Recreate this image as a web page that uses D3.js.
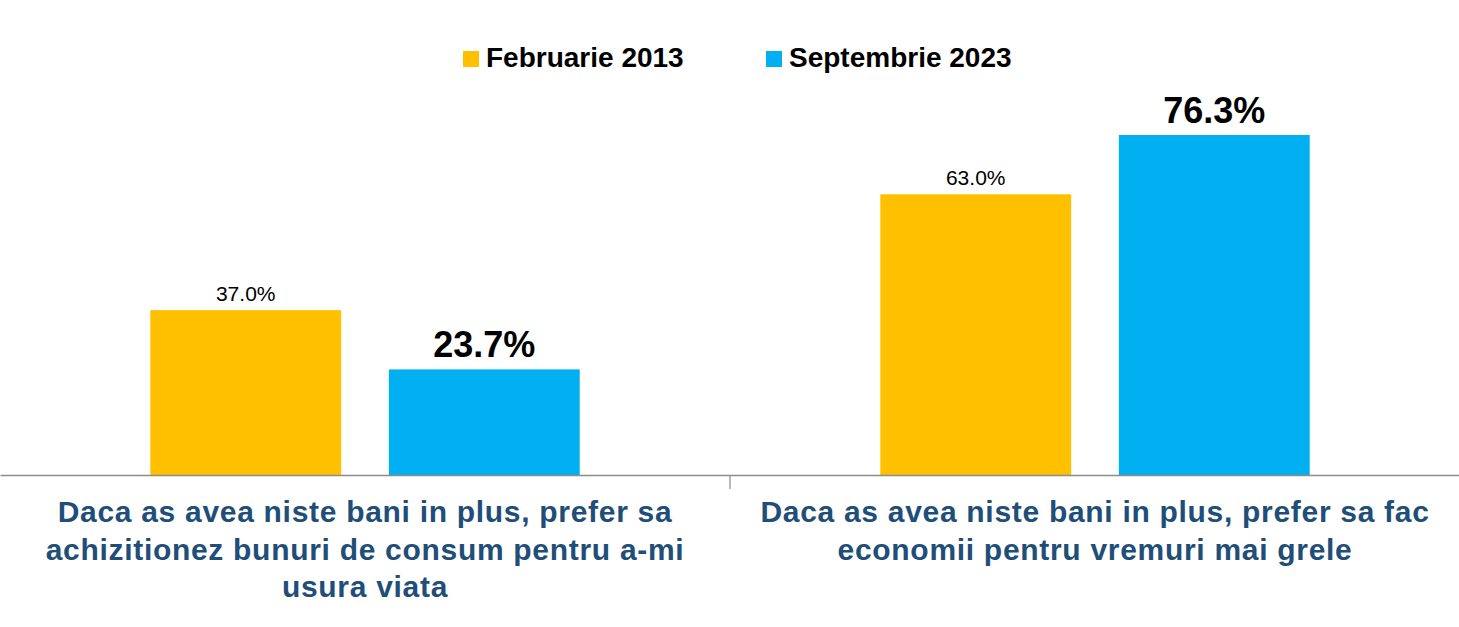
<!DOCTYPE html>
<html>
<head>
<meta charset="utf-8">
<script src="https://cdn.jsdelivr.net/npm/d3@7/dist/d3.min.js"></script>
<style>
  html, body { margin: 0; padding: 0; background: #fff; }
  svg { display: block; font-family: "Liberation Sans", Arial, sans-serif; }
</style>
</head>
<body>
<div id="chart"></div>
<script>
// Economii vs. consum - two survey waves
const width = 1459;
const height = 627;

const categories = [
    'Daca as avea niste bani in plus, prefer sa achizitionez bunuri de consum pentru a-mi usura viata',
    'Daca as avea niste bani in plus, prefer sa fac economii pentru vremuri mai grele'
];
const seriesNames = ['Februarie 2013', 'Septembrie 2023'];
const feb2013 = [37.0, 63.0];
const sep2023 = [23.7, 76.3];
const seriesColors = ['#FFC000', '#00B0F0'];

const values = [feb2013, sep2023];
const baseline = 475;

const svg = d3.select('#chart')
    .append('svg')
    .attr('width', width)
    .attr('height', height);

const x = d3.scaleBand().domain(d3.range(categories.length)).range([0, 1460]).padding(0);
const xSub = d3.scaleBand().domain(d3.range(seriesNames.length))
    .range([0, x.bandwidth()])
    .paddingInner(0.2)
    .paddingOuter(0.63);
const y = d3.scaleLinear().domain([0, 100]).range([baseline, baseline - 445.6]);

// bars
seriesNames.forEach((name, s) => {
    svg.selectAll('.bar-' + s)
        .data(values[s])
        .enter()
        .append('rect')
        .attr('class', 'bar-' + s)
        .attr('x', (d, i) => x(i) + xSub(s))
        .attr('y', d => y(d))
        .attr('width', xSub.bandwidth())
        .attr('height', d => y(0) - y(d))
        .attr('fill', seriesColors[s]);

    // value labels, the newer wave is bold and bigger
    svg.selectAll('.label-' + s)
        .data(values[s])
        .enter()
        .append('text')
        .attr('x', (d, i) => x(i) + xSub(s) + xSub.bandwidth() / 2)
        .attr('y', d => y(d) - (s === 1 ? 12 : 9))
        .attr('text-anchor', 'middle')
        .attr('fill', '#000')
        .style('font-size', s === 1 ? '36px' : '21px')
        .style('font-weight', s === 1 ? 'bold' : 'normal')
        .text(d => d.toFixed(1) + '%');
});

// axis line + middle tick
const axis = svg.append('g')
    .attr('transform', `translate(0,${baseline})`)
    .call(d3.axisBottom(x).tickValues([]).tickSizeOuter(0));
axis.select('.domain').attr('stroke', '#8c8c8c').attr('stroke-width', 1.5);
axis.append('line')
    .attr('x1', x(1)).attr('x2', x(1))
    .attr('y1', 0).attr('y2', 14)
    .attr('stroke', '#8c8c8c')
    .attr('stroke-width', 1.2);

// category labels, wrapped
const catLabels = svg.selectAll('.cat')
    .data(categories)
    .enter()
    .append('text')
    .attr('class', 'cat')
    .attr('text-anchor', 'middle')
    .attr('fill', '#1F4E79')
    .style('font-size', '30px')
    .style('font-weight', 'bold')
    .style('letter-spacing', '0.7px');

catLabels.each(function(d, i) {
    const text = d3.select(this);
    const cx = x(i) + x.bandwidth() / 2;
    const words = d.split(' ');
    let lineNo = 0;
    let line = [];
    let tspan = text.append('tspan').attr('x', cx).attr('y', baseline + 47);
    words.forEach(w => {
        line.push(w);
        tspan.text(line.join(' '));
        if (tspan.node().getComputedTextLength() > 700 && line.length > 1) {
            line.pop();
            tspan.text(line.join(' '));
            line = [w];
            lineNo++;
            tspan = text.append('tspan')
                .attr('x', cx)
                .attr('y', baseline + 47 + lineNo * 37.5)
                .text(w);
        }
    });
});

// legend
const legendX = [463, 766];
seriesNames.forEach((name, s) => {
    svg.append('rect')
        .attr('x', legendX[s])
        .attr('y', 51)
        .attr('width', 16)
        .attr('height', 16)
        .attr('fill', seriesColors[s]);
    svg.append('text')
        .attr('x', legendX[s] + 23)
        .attr('y', 67)
        .attr('fill', '#000')
        .style('font-size', '28px')
        .style('font-weight', 'bold')
        .text(name);
});
</script>
</body>
</html>
